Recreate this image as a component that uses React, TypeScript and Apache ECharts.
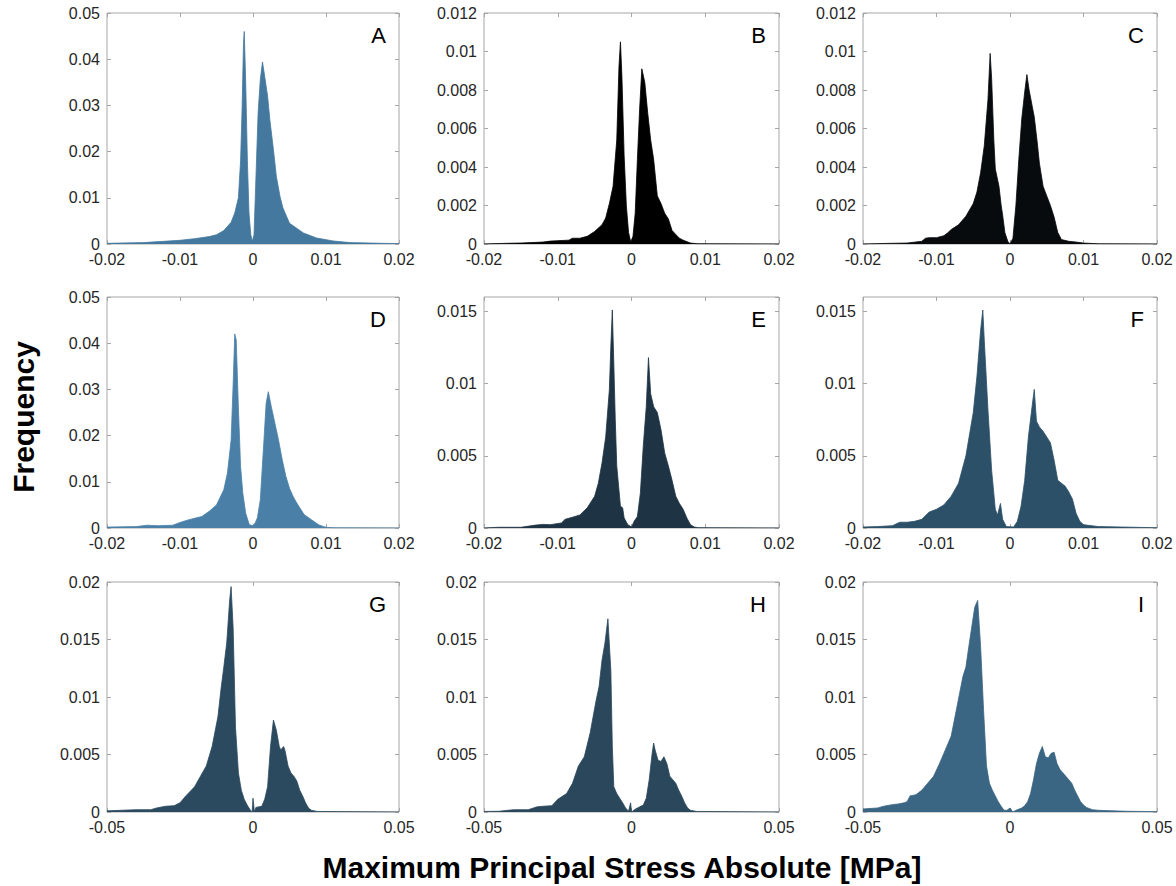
import React, { useEffect, useRef } from 'react';
import * as echarts from 'echarts';

// [stress (MPa), frequency]
const panelA: [number, number][] = [
  [-0.02, 0.00014], [-0.015, 0.0003], [-0.01, 0.0008], [-0.008, 0.00115], [-0.006, 0.0016],
  [-0.005, 0.002], [-0.004, 0.0029], [-0.003, 0.0047], [-0.0025, 0.0067], [-0.002, 0.01],
  [-0.0017, 0.018], [-0.0015, 0.029], [-0.0013, 0.0435], [-0.0012, 0.046], [-0.001, 0.035],
  [-0.00077, 0.018], [-0.00055, 0.0067], [-0.0003, 0.002], [-0.0001, 0.0006], [0.00014, 0.002],
  [0.0003, 0.0096], [0.0005, 0.019], [0.0007, 0.0284], [0.001, 0.0356], [0.0013, 0.0394],
  [0.0016, 0.0363], [0.002, 0.032], [0.0023, 0.027], [0.0028, 0.0204], [0.0032, 0.0146],
  [0.0037, 0.0103], [0.0041, 0.0078], [0.005, 0.0045], [0.0069, 0.0024], [0.0087, 0.0013],
  [0.011, 0.00065], [0.0133, 0.0003], [0.0178, 0.00014], [0.02, 0.0001],
];

const panelB: [number, number][] = [
  [-0.02, 0], [-0.0175, 0.00003], [-0.015, 0.00005], [-0.012, 0.0001], [-0.011, 0.00015],
  [-0.01, 0.00017], [-0.0085, 0.0002], [-0.008, 0.0003], [-0.007, 0.0003], [-0.006, 0.0004],
  [-0.005, 0.00065], [-0.004, 0.001], [-0.0035, 0.00135], [-0.003, 0.0021], [-0.0025, 0.003],
  [-0.002, 0.0054], [-0.0017, 0.0092], [-0.0015, 0.0105], [-0.0013, 0.0087], [-0.001, 0.0046],
  [-0.0007, 0.002], [-0.0004, 0.0006], [-0.0001, 0.0001], [0.0002, 0.0004], [0.0005, 0.0016],
  [0.0008, 0.0044], [0.0011, 0.007], [0.0014, 0.0091], [0.0018, 0.0084], [0.0022, 0.0068],
  [0.0026, 0.0054], [0.003, 0.0044], [0.0035, 0.0025], [0.004, 0.0021], [0.0045, 0.0016],
  [0.005, 0.0013], [0.0055, 0.0007], [0.006, 0.0005], [0.0065, 0.0003], [0.007, 0.0002],
  [0.008, 0.00005], [0.009, 0.00001], [0.02, 0],
];

const panelC: [number, number][] = [
  [-0.02, 0], [-0.017, 0.00003], [-0.014, 0.00005], [-0.012, 0.00014], [-0.0115, 0.0003],
  [-0.011, 0.00033], [-0.01, 0.00033], [-0.009, 0.00043], [-0.0085, 0.00057], [-0.008, 0.00075],
  [-0.007, 0.001], [-0.006, 0.00144], [-0.005, 0.0021], [-0.0045, 0.0027], [-0.004, 0.0037],
  [-0.0035, 0.0051], [-0.003, 0.0075], [-0.0027, 0.0099], [-0.0025, 0.0086], [-0.0022, 0.0054],
  [-0.002, 0.0039], [-0.0015, 0.003], [-0.0012, 0.002], [-0.001, 0.0015], [-0.0007, 0.0006],
  [-0.0003, 0.00014], [0, 0], [0.0004, 0.0003], [0.0008, 0.002], [0.0012, 0.0044],
  [0.0016, 0.0065], [0.002, 0.0079], [0.0023, 0.0088], [0.0026, 0.008], [0.003, 0.0072],
  [0.0033, 0.0066], [0.0037, 0.0053], [0.004, 0.0042], [0.0045, 0.003], [0.005, 0.0025],
  [0.0055, 0.002], [0.006, 0.0014], [0.0065, 0.0006], [0.007, 0.00023], [0.008, 0.00014],
  [0.009, 0.0001], [0.01, 0.00005], [0.012, 0.00001], [0.02, 0],
];

const panelD: [number, number][] = [
  [-0.02, 0.0002], [-0.016, 0.0003], [-0.0145, 0.0006], [-0.013, 0.0005], [-0.011, 0.0006],
  [-0.01, 0.0012], [-0.009, 0.0017], [-0.008, 0.0021], [-0.007, 0.0025], [-0.006, 0.0036],
  [-0.005, 0.005], [-0.004, 0.0083], [-0.0035, 0.0119], [-0.003, 0.019], [-0.0027, 0.032],
  [-0.0025, 0.042], [-0.0023, 0.0407], [-0.002, 0.026], [-0.0017, 0.0133], [-0.0014, 0.0076],
  [-0.001, 0.0032], [-0.0005, 0.0007], [0, 0.0005], [0.0003, 0.0011], [0.0006, 0.0022],
  [0.001, 0.0061], [0.0015, 0.019], [0.0018, 0.027], [0.0021, 0.0295], [0.0025, 0.0263],
  [0.003, 0.0227], [0.0035, 0.019], [0.004, 0.0148], [0.0045, 0.0112], [0.005, 0.0086],
  [0.0055, 0.0068], [0.006, 0.0054], [0.007, 0.0029], [0.008, 0.0018], [0.009, 0.0007],
  [0.0095, 0.0004], [0.01, 0.00015], [0.011, 0.00005], [0.02, 0],
];

const panelE: [number, number][] = [
  [-0.02, 0], [-0.018, 0.00005], [-0.015, 0.00005], [-0.013, 0.0002], [-0.012, 0.00025],
  [-0.011, 0.00023], [-0.0095, 0.00035], [-0.009, 0.0006], [-0.008, 0.00075], [-0.007, 0.0009],
  [-0.006, 0.0014], [-0.005, 0.0022], [-0.0045, 0.0031], [-0.004, 0.0045], [-0.0035, 0.0063],
  [-0.003, 0.0096], [-0.0028, 0.0126], [-0.0026, 0.0151], [-0.0024, 0.0114], [-0.0022, 0.0075],
  [-0.002, 0.0043], [-0.0015, 0.0015], [-0.0012, 0.0014], [-0.001, 0.0007], [-0.0005, 0.00023],
  [0, 0.00007], [0.0004, 0.0005], [0.0008, 0.0008], [0.0012, 0.0024], [0.0016, 0.0057],
  [0.002, 0.0084], [0.0023, 0.0118], [0.0026, 0.0093], [0.003, 0.0084], [0.0035, 0.008],
  [0.004, 0.0068], [0.0045, 0.0052], [0.005, 0.0043], [0.0055, 0.0033], [0.006, 0.0022],
  [0.0065, 0.0017], [0.007, 0.0013], [0.0075, 0.0007], [0.008, 0.00023], [0.0085, 0.00007],
  [0.009, 0.00002], [0.02, 0],
];

const panelF: [number, number][] = [
  [-0.02, 0.00007], [-0.018, 0.0001], [-0.016, 0.00016], [-0.015, 0.0004], [-0.014, 0.0004],
  [-0.013, 0.00046], [-0.012, 0.0006], [-0.011, 0.0011], [-0.01, 0.0013], [-0.009, 0.0016],
  [-0.008, 0.0022], [-0.007, 0.0031], [-0.006, 0.005], [-0.005, 0.008], [-0.0045, 0.0105],
  [-0.004, 0.0137], [-0.0037, 0.0151], [-0.0035, 0.013], [-0.003, 0.0082], [-0.0025, 0.004],
  [-0.002, 0.0013], [-0.0017, 0.0009], [-0.0013, 0.0017], [-0.001, 0.0006], [-0.0005, 0.0001],
  [0.0005, 0.00007], [0.001, 0.00046], [0.0015, 0.0015], [0.002, 0.0033], [0.0025, 0.0063],
  [0.003, 0.0084], [0.0033, 0.0096], [0.0036, 0.0074], [0.004, 0.007], [0.0045, 0.0067],
  [0.005, 0.0063], [0.0055, 0.0059], [0.006, 0.0047], [0.0065, 0.0033], [0.007, 0.0031],
  [0.0075, 0.0029], [0.008, 0.0025], [0.0085, 0.002], [0.009, 0.001], [0.0095, 0.00046],
  [0.01, 0.00023], [0.012, 0.0001], [0.015, 0.00007], [0.02, 0.00002],
];

const panelG: [number, number][] = [
  [-0.05, 0.0001], [-0.04, 0.0002], [-0.035, 0.0002], [-0.033, 0.00035], [-0.03, 0.0005],
  [-0.027, 0.00055], [-0.025, 0.0008], [-0.023, 0.0014], [-0.02, 0.0022], [-0.018, 0.0031],
  [-0.016, 0.004], [-0.014, 0.0057], [-0.012, 0.0083], [-0.011, 0.0106], [-0.01, 0.0126],
  [-0.009, 0.0147], [-0.008, 0.0184], [-0.0075, 0.0196], [-0.0068, 0.016], [-0.006, 0.0074],
  [-0.005, 0.0034], [-0.004, 0.0019], [-0.003, 0.0011], [-0.002, 0.0006], [-0.001, 0.0002],
  [-0.0003, 0], [0, 0.0012], [0.0005, 0], [0.001, 0.0004], [0.003, 0.0005],
  [0.004, 0.0011], [0.005, 0.0022], [0.006, 0.0057], [0.007, 0.008], [0.008, 0.0071],
  [0.009, 0.0057], [0.0095, 0.0054], [0.0105, 0.0057], [0.011, 0.0053], [0.012, 0.004],
  [0.013, 0.0034], [0.014, 0.0031], [0.015, 0.0027], [0.016, 0.0019], [0.017, 0.0014],
  [0.018, 0.0008], [0.019, 0.00035], [0.02, 0.00015], [0.022, 0.00005], [0.05, 0],
];

const panelH: [number, number][] = [
  [-0.05, 0.00005], [-0.045, 0.00006], [-0.04, 0.0002], [-0.035, 0.0002], [-0.032, 0.00045],
  [-0.03, 0.0005], [-0.027, 0.00055], [-0.025, 0.0011], [-0.022, 0.0016], [-0.02, 0.0025],
  [-0.018, 0.004], [-0.016, 0.0048], [-0.014, 0.0069], [-0.012, 0.0097], [-0.011, 0.0109],
  [-0.01, 0.0132], [-0.009, 0.0147], [-0.008, 0.0168], [-0.007, 0.0123], [-0.0065, 0.0057],
  [-0.006, 0.0022], [-0.005, 0.0016], [-0.004, 0.0012], [-0.003, 0.0008], [-0.002, 0.00035],
  [-0.001, 0.00006], [-0.0003, 0.0008], [0, 0], [0.001, 0.0002], [0.002, 0.00035],
  [0.004, 0.0006], [0.005, 0.0012], [0.006, 0.0028], [0.007, 0.0051], [0.0075, 0.006],
  [0.008, 0.0054], [0.009, 0.0045], [0.01, 0.0044], [0.011, 0.0048], [0.012, 0.0042],
  [0.013, 0.0031], [0.014, 0.0028], [0.015, 0.0025], [0.016, 0.0019], [0.017, 0.0014],
  [0.018, 0.0008], [0.019, 0.00035], [0.02, 0.00015], [0.022, 0.00005], [0.05, 0],
];

const panelI: [number, number][] = [
  [-0.05, 0.00026], [-0.048, 0.0003], [-0.045, 0.00035], [-0.043, 0.0005], [-0.04, 0.00064],
  [-0.038, 0.0007], [-0.036, 0.0008], [-0.035, 0.0009], [-0.034, 0.0014], [-0.032, 0.0015],
  [-0.03, 0.0019], [-0.028, 0.0025], [-0.026, 0.0031], [-0.024, 0.0042], [-0.022, 0.0054],
  [-0.02, 0.0066], [-0.018, 0.0092], [-0.016, 0.0118], [-0.015, 0.0126], [-0.014, 0.0144],
  [-0.013, 0.0161], [-0.012, 0.0178], [-0.011, 0.0184], [-0.01, 0.0144], [-0.009, 0.0089],
  [-0.008, 0.004], [-0.007, 0.0025], [-0.006, 0.0019], [-0.005, 0.0014], [-0.004, 0.0009],
  [-0.003, 0.0005], [-0.002, 0.00015], [-0.001, 0.00015], [0, 0.00035], [0.001, 0],
  [0.002, 0.00015], [0.004, 0.00035], [0.005, 0.00055], [0.006, 0.0009], [0.007, 0.0016],
  [0.008, 0.0028], [0.009, 0.0042], [0.01, 0.0051], [0.011, 0.0057], [0.012, 0.0048],
  [0.013, 0.0047], [0.014, 0.0051], [0.015, 0.0052], [0.016, 0.0042], [0.017, 0.0037],
  [0.018, 0.0034], [0.019, 0.0031], [0.02, 0.0028], [0.021, 0.0025], [0.022, 0.0019],
  [0.023, 0.0014], [0.024, 0.0009], [0.025, 0.0006], [0.026, 0.0004], [0.028, 0.0002],
  [0.03, 0.00015], [0.035, 0.0001], [0.04, 0.00006], [0.05, 0.00003],
];

const panelLetters = ['A', 'B', 'C', 'D', 'E', 'F', 'G', 'H', 'I'];
const panelData = [panelA, panelB, panelC, panelD, panelE, panelF, panelG, panelH, panelI];
const xRanges = [0.02, 0.02, 0.02, 0.02, 0.02, 0.02, 0.05, 0.05, 0.05];
const xIntervals = [0.01, 0.01, 0.01, 0.01, 0.01, 0.01, 0.05, 0.05, 0.05];
const yMaxes = [0.05, 0.012, 0.012, 0.05, 0.016, 0.016, 0.02, 0.02, 0.02];
const yIntervals = [0.01, 0.002, 0.002, 0.01, 0.005, 0.005, 0.005, 0.005, 0.005];

const xTitle = 'Maximum Principal Stress Absolute [MPa]';
const yTitle = 'Frequency';

// styling / layout
const colors = ['#44789e', '#000000', '#080b0e', '#4a80a8', '#1e3444', '#2c5068', '#2b4a5f', '#2a475b', '#3a6583'];
const colLeft = [107, 484, 863];
const colWidth = [292, 295, 294];
const rowTop = [13, 297, 582];
const rowHeight = [231, 231, 230];
const FONT = '"Liberation Sans", Arial, Helvetica, sans-serif';
const BOX = '#a6a6a6';

export default function App() {
  const ref = useRef<HTMLDivElement>(null);
  useEffect(() => {
    if (!ref.current) return;
    const chart = echarts.init(ref.current, undefined, { renderer: 'svg' });
    const grids: any[] = [];
    const xAxes: any[] = [];
    const yAxes: any[] = [];
    const series: any[] = [];
    const graphics: any[] = [];
    panelData.forEach((data, i) => {
      const r = Math.floor(i / 3);
      const c = i % 3;
      grids.push({
        left: colLeft[c], top: rowTop[r], width: colWidth[c], height: rowHeight[r],
        show: true, borderColor: BOX, borderWidth: 1, backgroundColor: 'transparent',
      });
      const tick = { show: true, inside: true, length: 4, lineStyle: { color: BOX, width: 1 } };
      const xBase = {
        type: 'value', gridIndex: i, min: -xRanges[i], max: xRanges[i], interval: xIntervals[i],
        splitLine: { show: false }, axisLine: { show: false, onZero: false }, axisTick: tick,
      };
      xAxes.push({
        ...xBase, position: 'bottom',
        axisLabel: { color: '#262626', fontSize: 16, fontFamily: FONT, margin: 7 },
      });
      xAxes.push({ ...xBase, position: 'top', axisLabel: { show: false } });
      const ratio = yMaxes[i] / yIntervals[i];
      const maxOnTick = Math.abs(ratio - Math.round(ratio)) < 1e-6;
      const yBase = {
        type: 'value', gridIndex: i, min: 0, max: yMaxes[i], interval: yIntervals[i],
        splitLine: { show: false }, axisLine: { show: false, onZero: false }, axisTick: tick,
      };
      yAxes.push({
        ...yBase, position: 'left',
        axisLabel: { color: '#262626', fontSize: 16, fontFamily: FONT, margin: 7, showMaxLabel: maxOnTick },
      });
      yAxes.push({ ...yBase, position: 'right', axisLabel: { show: false } });
      series.push({
        type: 'line', xAxisIndex: 2 * i, yAxisIndex: 2 * i, data,
        symbol: 'none', showSymbol: false, silent: true,
        lineStyle: { width: 0.8, color: colors[i] },
        areaStyle: { color: colors[i], opacity: 1 },
        z: 2,
      });
      graphics.push({
        type: 'text',
        x: colLeft[c] + colWidth[c] - 13,
        y: rowTop[r] + 22,
        style: { text: panelLetters[i], font: `22px ${FONT}`, fill: '#000', align: 'right', verticalAlign: 'middle' },
      });
    });
    graphics.push({
      type: 'text', x: 23, y: 417, rotation: Math.PI / 2,
      style: { text: yTitle, font: `bold 30px ${FONT}`, fill: '#000', align: 'center', verticalAlign: 'middle' },
    });
    graphics.push({
      type: 'text', x: 622, y: 867,
      style: { text: xTitle, font: `bold 30px ${FONT}`, fill: '#000', align: 'center', verticalAlign: 'middle' },
    });
    chart.setOption({
      animation: false,
      backgroundColor: '#ffffff',
      grid: grids,
      xAxis: xAxes,
      yAxis: yAxes,
      series,
      graphic: graphics,
    });
    return () => chart.dispose();
  }, []);
  return (
    <div
      ref={ref}
      style={{ position: 'absolute', left: 0, top: 0, width: 1176, height: 886, background: '#fff' }}
    />
  );
}
